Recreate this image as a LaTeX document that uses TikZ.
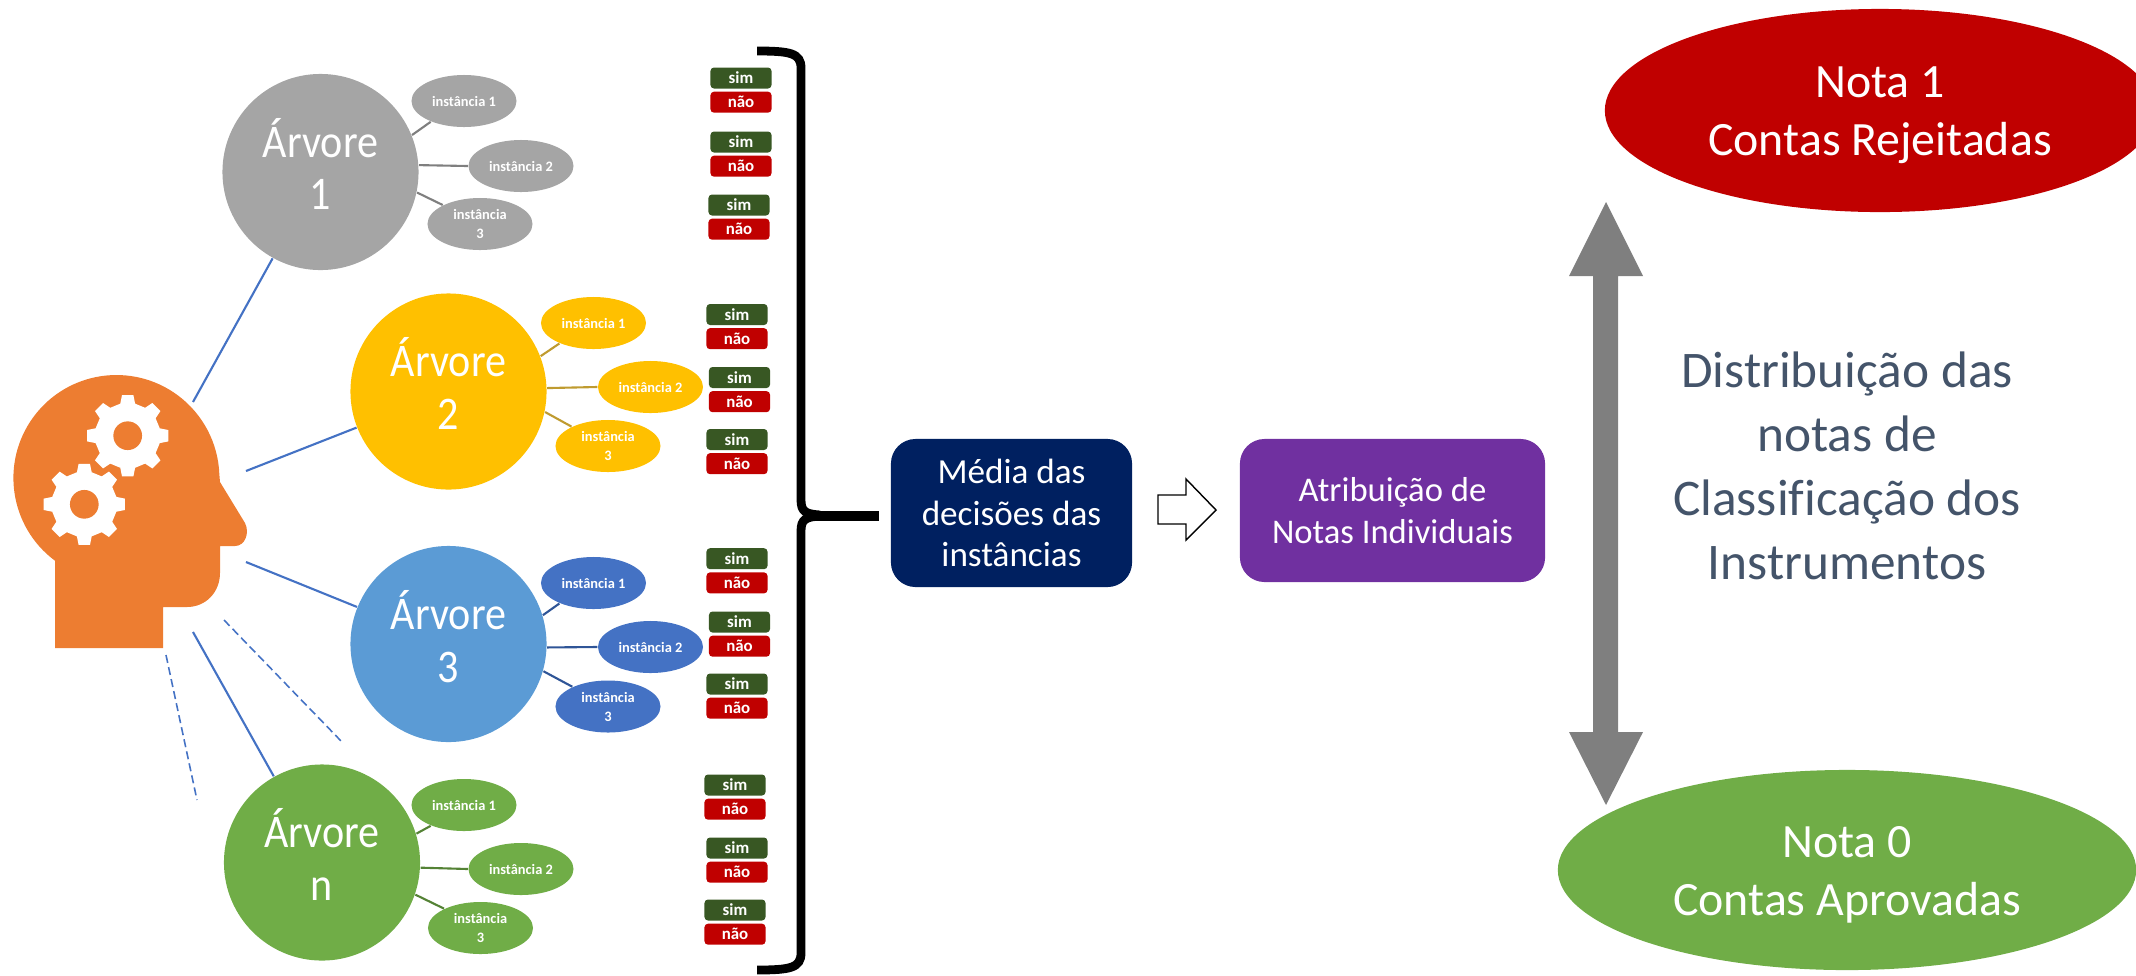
\documentclass[tikz,border=0pt]{standalone}
\usepackage{fontspec}
\setmainfont[Ligatures=NoCommon]{Carlito}
\newfontfamily\treefont[FakeStretch=0.9,Ligatures=NoCommon]{Carlito}
\usetikzlibrary{positioning}
\usetikzlibrary{shapes.geometric}

\definecolor{headorange}{HTML}{ED7D31}
\definecolor{linkblue}{HTML}{4472C4}
\definecolor{treegray}{HTML}{A5A5A5}
\definecolor{treeyellow}{HTML}{FFC000}
\definecolor{treeblue}{HTML}{5B9BD5}
\definecolor{treegreen}{HTML}{70AD47}
\definecolor{branchyellow}{HTML}{BF9B30}
\definecolor{branchblue}{HTML}{2F5597}
\definecolor{branchgreen}{HTML}{548235}
\definecolor{simgreen}{HTML}{385723}
\definecolor{naored}{HTML}{C00000}
\definecolor{mediablue}{HTML}{002060}
\definecolor{notapurple}{HTML}{7030A0}
\definecolor{textslate}{HTML}{44546A}
\definecolor{arrowgray}{HTML}{7F7F7F}

\tikzset{
  tree/.style={circle,fill=#1,text=white,minimum size=1.96cm,inner sep=0pt,align=center,text depth=4.5pt,font=\treefont\fontsize{13.3}{15}\selectfont},
  inst/.style={ellipse,fill=#1,text=white,minimum width=1.05cm,minimum height=0.52cm,inner sep=0pt,align=center,font=\bfseries\fontsize{4.1}{5.4}\selectfont},
  link/.style={linkblue,line width=0.6pt},
  branch/.style={#1,line width=0.6pt},
  answer/.style={rounded corners=1pt,fill=#1,text=white,minimum width=0.61cm,minimum height=0.21cm,inner sep=0pt,font=\bfseries\fontsize{4.8}{5}\selectfont},
  sim/.style={answer=simgreen},
  nao/.style={answer=naored,below=0.5pt of #1},
  stepbox/.style={rounded corners=7pt,fill=#1,text=white,inner sep=0pt,align=center},
  nota/.style={ellipse,fill=#1,text=white,inner sep=0pt,align=center,text height=27.9pt,font=\fontsize{13.6}{16.4}\selectfont},
  gear/.pic={
    \fill[white] (-13:9.4) -- (-8:11.7) -- (8:11.7) -- (13:9.4) -- (32:9.4) -- (37:11.7) -- (53:11.7) -- (58:9.4)
      -- (77:9.4) -- (82:11.7) -- (98:11.7) -- (103:9.4) -- (122:9.4) -- (127:11.7) -- (143:11.7) -- (148:9.4)
      -- (167:9.4) -- (172:11.7) -- (188:11.7) -- (193:9.4) -- (212:9.4) -- (217:11.7) -- (233:11.7) -- (238:9.4)
      -- (257:9.4) -- (262:11.7) -- (278:11.7) -- (283:9.4) -- (302:9.4) -- (307:11.7) -- (323:11.7) -- (328:9.4) -- cycle;
    \fill[headorange] (0,0) circle (4.1);
  }
}

\begin{document}
\begin{tikzpicture}[x=0.01cm,y=-0.01cm]
\begin{scope}
\clip (0,0) rectangle (2136,975);
\useasboundingbox (0,0) rectangle (2136,975);

% head
\fill[headorange] (55,560.7) arc (126.6:358:103) -- (220,482) -- (245,523) .. controls (250,533) and (245,546) .. (235,546) -- (220,546) -- (220,573)
  .. controls (220,592) and (206,607) .. (187,607) -- (163,607) -- (163,648) -- (55,648) -- cycle;
\pic[scale=3.5] at (127.7,435.7) {gear};
\pic[scale=3.5] at (84.3,504.3) {gear};

% trees
\node[tree=treegray] (tree1) at (320.5,172) {Árvore\\1};
\node[tree=treeyellow] (tree2) at (448.5,391.5) {Árvore\\2};
\node[tree=treeblue] (tree3) at (448.5,644) {Árvore\\3};
\node[tree=treegreen] (treen) at (322,862.5) {Árvore\\n};

\coordinate (link1) at (193,402);
\coordinate (link2) at (246,471);
\coordinate (link3) at (246,562);
\coordinate (link4) at (193,632);
\coordinate (dash1) at (224,620);
\coordinate (dash2) at (342,742);
\coordinate (dash3) at (166,655);
\coordinate (dash4) at (197,800);
\draw[link] (link1) -- (tree1);
\draw[link] (link2) -- (tree2);
\draw[link] (link3) -- (tree3);
\draw[link] (link4) -- (treen);
\draw[link,line width=0.45pt,dash pattern=on 2.3pt off 1.2pt] (dash1) -- (dash2);
\draw[link,line width=0.45pt,dash pattern=on 2.3pt off 1.2pt] (dash3) -- (dash4);

% instances
\node[inst=treegray] (inst11) at (464,101) {instância 1};
\node[inst=treegray] (inst12) at (521,166) {instância 2};
\node[inst=treegray] (inst13) at (480,224) {instância\\3};
\node[inst=treeyellow] (inst21) at (593.5,323) {instância 1};
\node[inst=treeyellow] (inst22) at (650.5,387) {instância 2};
\node[inst=treeyellow] (inst23) at (608,446) {instância\\3};
\node[inst=linkblue] (inst31) at (593.5,583) {instância 1};
\node[inst=linkblue] (inst32) at (650.5,647) {instância 2};
\node[inst=linkblue] (inst33) at (608,706.5) {instância\\3};
\node[inst=treegreen] (instn1) at (464,805) {instância 1};
\node[inst=treegreen] (instn2) at (521,869) {instância 2};
\node[inst=treegreen] (instn3) at (480.5,928) {instância\\3};

\draw[branch=arrowgray] (tree1.22) -- (inst11.212);
\draw[branch=arrowgray] (tree1.4) -- (inst12.west);
\draw[branch=arrowgray] (tree1.-12) -- (inst13.153);
\draw[branch=branchyellow] (tree2.21) -- (inst21.211);
\draw[branch=branchyellow] (tree2.2) -- (inst22.west);
\draw[branch=branchyellow] (tree2.-12) -- (inst23.152);
\draw[branch=branchblue] (tree3.17) -- (inst31.211);
\draw[branch=branchblue] (tree3.-2) -- (inst32.west);
\draw[branch=branchblue] (tree3.-16) -- (inst33.151);
\draw[branch=branchgreen] (treen.17) -- (instn1.212);
\draw[branch=branchgreen] (treen.-3) -- (instn2.west);
\draw[branch=branchgreen] (treen.-19) -- (instn3.152);

% answers
\node[sim] (sim11) at (741,78) {sim};
\node[nao=sim11] {não};
\node[sim] (sim12) at (741,142) {sim};
\node[nao=sim12] {não};
\node[sim] (sim13) at (739,205) {sim};
\node[nao=sim13] {não};
\node[sim] (sim21) at (737,314.5) {sim};
\node[nao=sim21] {não};
\node[sim] (sim22) at (739.5,377.5) {sim};
\node[nao=sim22] {não};
\node[sim] (sim23) at (737,439.5) {sim};
\node[nao=sim23] {não};
\node[sim] (sim31) at (737,558.7) {sim};
\node[nao=sim31] {não};
\node[sim] (sim32) at (739.5,622) {sim};
\node[nao=sim32] {não};
\node[sim] (sim33) at (737,684) {sim};
\node[nao=sim33] {não};
\node[sim] (simn1) at (735,785) {sim};
\node[nao=simn1] {não};
\node[sim] (simn2) at (737,848) {sim};
\node[nao=simn2] {não};
\node[sim] (simn3) at (735,910) {sim};
\node[nao=simn3] {não};

% brace
\draw[line width=2.5pt] (757,51) .. controls (790,51) and (801,53) .. (801,68) -- (801,500) .. controls (801,512) and (806,514) .. (820,515);
\draw[line width=2.5pt] (757,970) .. controls (790,970) and (801,968) .. (801,953) -- (801,531) .. controls (801,519) and (806,517) .. (820,516);
\coordinate (bracetip) at (812,516);
\coordinate (bracestem) at (879,516);
\draw[line width=2.6pt] (bracetip) -- (bracestem);

% steps
\node[stepbox=mediablue,minimum width=2.41cm,minimum height=1.48cm,font=\fontsize{10}{11.9}\selectfont] (media) at (1011.5,513) {Média das\\decisões das\\instâncias};
\node[stepbox=notapurple,minimum width=3.05cm,minimum height=1.43cm,font=\fontsize{9.85}{12}\selectfont] (atrib) at (1392.5,510.5) {Atribuição de\\Notas Individuais};
\draw[line width=0.4pt,fill=white] (1158,495) -- (1186,495) -- (1186,479) -- (1216,510) -- (1186,540) -- (1186,524) -- (1158,524) -- cycle;

% right side
\fill[arrowgray] (1606,202) -- (1643,276) -- (1618,276) -- (1618,732) -- (1643,732) -- (1606,805) -- (1569,732) -- (1593,732) -- (1593,276) -- (1569,276) -- cycle;
\node[text=textslate,align=center,font=\fontsize{14.6}{18.2}\selectfont] (dist) at (1847,466) {Distribuição das\\notas de\\Classificação dos\\Instrumentos};
\node[nota=naored,minimum width=5.5cm,minimum height=2.03cm] (nota1) at (1880,110.5) {Nota 1\\Contas Rejeitadas};
\node[nota=treegreen,minimum width=5.78cm,minimum height=2cm] (nota0) at (1847,870) {Nota 0\\Contas Aprovadas};
\end{scope}
\end{tikzpicture}
\end{document}
